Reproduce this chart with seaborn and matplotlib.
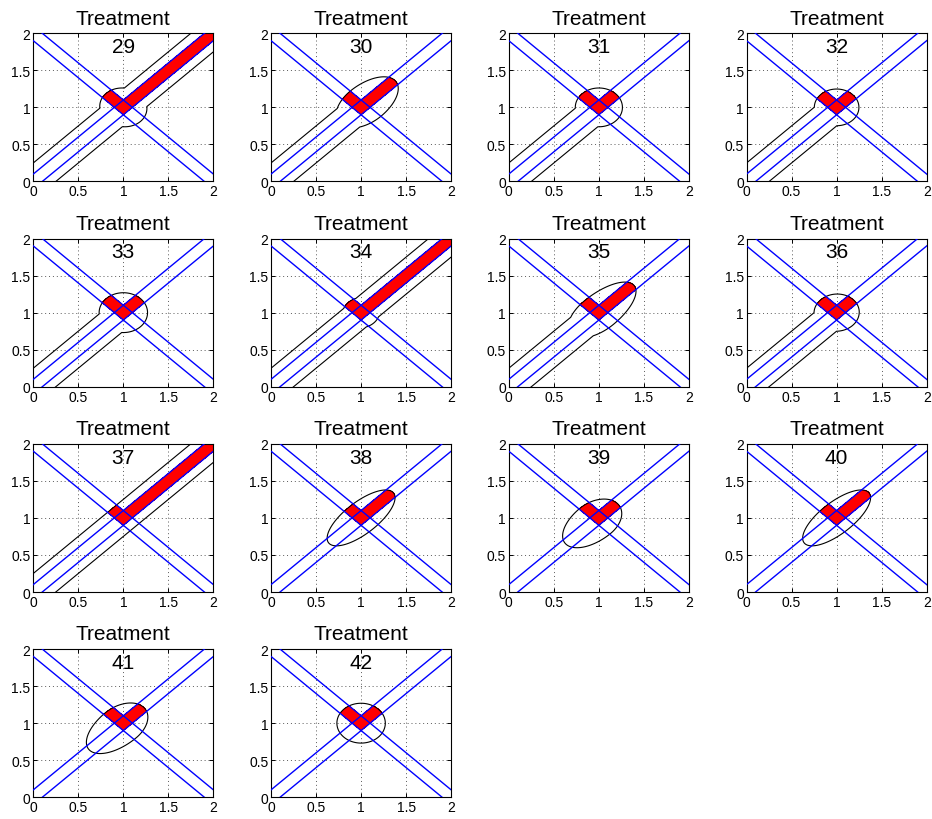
import numpy as np
import pandas as pd
import matplotlib
matplotlib.use("Agg")
import matplotlib.pyplot as plt
import seaborn as sns

# ---- panel definitions -------------------------------------------------
panel_ids = [29, 30, 31, 32, 33, 34, 35, 36, 37, 38, 39, 40, 41, 42]
# which parts of the diagonal corridor belong to the feasible region
lower_tail = [1, 1, 1, 1, 1, 1, 1, 1, 1, 0, 0, 0, 0, 0]
upper_tail = [1, 0, 0, 0, 0, 1, 0, 0, 1, 0, 0, 0, 0, 0]
# blob around the crossing, in (s, p) = ((x+y)/2, (y-x)/2) coordinates
blob_s    = [1.00, 1.05, 1.00, 1.00, 1.00, 1.00, 1.00, 1.00, 0.00, 1.00, 0.96, 1.00, 0.97, 1.00]
blob_a_lo = [0.18, 0.28, 0.185, 0.175, 0.19, 0.15, 0.30, 0.18, 0.00, 0.35, 0.32, 0.35, 0.34, 0.19]
blob_a_hi = [0.18, 0.32, 0.185, 0.175, 0.19, 0.15, 0.38, 0.18, 0.00, 0.35, 0.24, 0.35, 0.25, 0.19]
blob_b    = [0.19, 0.17, 0.185, 0.175, 0.19, 0.14, 0.16, 0.175, 0.00, 0.14, 0.17, 0.14, 0.17, 0.19]

band_half = 0.125              # corridor half-width in p units
diag_offsets = [-0.1, 0.1]     # y = x + c
anti_intercepts = [1.9, 2.1]   # y = c - x
tick_vals = [0, 0.5, 1, 1.5, 2]
tick_labels = ["0", "0.5", "1", "1.5", "2"]

# ---- styling -----------------------------------------------------------
sns.set_style("ticks")
plt.rcParams["font.family"] = ["Liberation Sans", "DejaVu Sans"]
plt.rcParams["axes.linewidth"] = 0.8
plt.rcParams["text.color"] = "black"
plt.rcParams["axes.labelcolor"] = "black"
plt.rcParams["xtick.color"] = "black"
plt.rcParams["ytick.color"] = "black"
plt.rcParams["axes.edgecolor"] = "black"

fig, axes = plt.subplots(4, 4, figsize=(9.32, 8.2), dpi=100)
fig.subplots_adjust(left=0.0357, right=0.9943, bottom=0.0265, top=0.9582,
                    wspace=0.32, hspace=0.385)

# evaluation grid (node spacing chosen off the 0.05 lattice)
g = np.linspace(-0.01, 2.01, 787)
X, Y = np.meshgrid(g, g)
S = (X + Y) / 2
P = (Y - X) / 2
D = Y - X
T = X + Y

# V-shaped target set: upper arms of both bands plus their crossing
f_diag = np.maximum(np.abs(D) - 0.1, 1.9 - T)
f_anti = np.maximum(np.abs(T - 2) - 0.1, -0.1 - D)
f_v = np.minimum(f_diag, f_anti)

# straight blue boundary lines
rows = []
for k, c in enumerate(diag_offsets):
    for x in (-0.2, 2.2):
        rows.append(dict(line=f"d{k}", x=x, y=x + c))
for k, c in enumerate(anti_intercepts):
    for x in (-0.2, 2.2):
        rows.append(dict(line=f"a{k}", x=x, y=c - x))
lines_df = pd.DataFrame(rows)


def region_field(i):
    parts = [np.full_like(X, 10.0)]
    band = np.abs(P) / band_half
    if lower_tail[i] and upper_tail[i]:
        parts.append(band)
    elif lower_tail[i]:
        parts.append(np.maximum(band, 1 + (S - 1.0) * 20))
    elif upper_tail[i]:
        parts.append(np.maximum(band, 1 + (1.0 - S) * 20))
    if blob_b[i] > 0:
        A = np.where(S > blob_s[i], blob_a_hi[i], blob_a_lo[i])
        parts.append(np.sqrt(((S - blob_s[i]) / A) ** 2 + (P / blob_b[i]) ** 2))
    return np.minimum.reduce(parts)


flat = axes.ravel()
for i, pid in enumerate(panel_ids):
    ax = flat[i]
    F = region_field(i)
    red = np.maximum(f_v * 8, F - 1)
    ax.contourf(X, Y, red, levels=[-100, 0], colors=["#ff0000"], zorder=1)
    ax.contour(X, Y, F, levels=[1], colors="black", linewidths=0.8, zorder=2)
    sns.lineplot(data=lines_df, x="x", y="y", units="line", estimator=None,
                 sort=False, color="#0000ff", linewidth=1.0, ax=ax, zorder=3)
    ax.set_xlim(0, 2)
    ax.set_ylim(0, 2)
    ax.set_xticks(tick_vals)
    ax.set_xticklabels(tick_labels)
    ax.set_yticks(tick_vals)
    ax.set_yticklabels(tick_labels)
    ax.set_xlabel("")
    ax.set_ylabel("")
    ax.grid(True, linestyle=(0, (1, 3)), color="0.35", linewidth=0.7)
    ax.set_axisbelow(True)
    ax.tick_params(direction="in", length=3, width=0.7, top=True, right=True,
                   labelsize=10, pad=2, colors="black")
    for sp in ax.spines.values():
        sp.set_visible(True)
        sp.set_color("black")
    ax.set_title("Treatment", fontsize=15, pad=7, color="black")
    ax.text(1.0, 1.82, str(pid), ha="center", va="center", fontsize=15,
            color="black", zorder=4)

for ax in flat[len(panel_ids):]:
    ax.remove()

fig.savefig("out.png", dpi=100)
